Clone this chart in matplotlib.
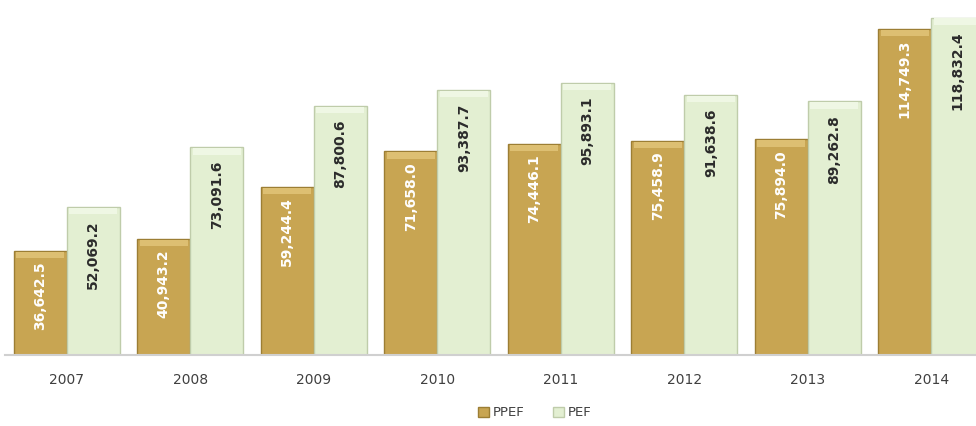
import matplotlib.pyplot as plt
import numpy as np

years = ["2007", "2008", "2009", "2010", "2011", "2012", "2013", "2014"]
ppef = [36642.5, 40943.2, 59244.4, 71658.0, 74446.1, 75458.9, 75894.0, 114749.3]
pef = [52069.2, 73091.6, 87800.6, 93387.7, 95893.1, 91638.6, 89262.8, 118832.4]

gold = "#C8A552"
gold_edge = "#9C7E34"
gold_top = "#DDBF72"
green = "#E3EFD2"
green_edge = "#BFCCAA"
green_top = "#EFF7E4"

fig = plt.figure(figsize=(9.76, 4.26), dpi=100)
ax = fig.add_axes([5 / 976, 71 / 426, 988 / 976, 355 / 426])

x = np.arange(len(years))
w = 0.43

# main bars
b1 = ax.bar(x - w / 2, ppef, w, color=gold, edgecolor=gold_edge, linewidth=1.0, label="PPEF", zorder=2)
b2 = ax.bar(x + w / 2, pef, w, color=green, edgecolor=green_edge, linewidth=1.0, label="PEF", zorder=2)

# light strip on top for a bevel look
bevel = 2200
ax.bar(x - w / 2, bevel, w * 0.9, bottom=np.array(ppef) - bevel * 1.15, color=gold_top, linewidth=0, zorder=3)
ax.bar(x + w / 2, bevel, w * 0.9, bottom=np.array(pef) - bevel * 1.15, color=green_top, linewidth=0, zorder=3)

# value labels, rotated, just under the top of each bar
for xi, v in zip(x, ppef):
    ax.text(xi - w / 2, v - 3800, f"{v:,.1f}", rotation=90, ha="center", va="top",
            color="white", fontsize=10, fontweight="bold", zorder=4)
for xi, v in zip(x, pef):
    ax.text(xi + w / 2, v - 4800, f"{v:,.1f}", rotation=90, ha="center", va="top",
            color="#2b2b2b", fontsize=10, fontweight="bold", zorder=4)

ax.set_xlim(-0.5, len(years) - 0.5)
ax.set_ylim(0, 125000)
ax.set_xticks(x)
ax.set_xticklabels(years, fontsize=10, color="#404040")
ax.tick_params(axis="x", length=0, pad=13)
ax.set_yticks([])
for side in ["top", "right", "left"]:
    ax.spines[side].set_visible(False)
ax.spines["bottom"].set_color("#D0D0D0")
ax.spines["bottom"].set_linewidth(1.5)

fig.legend(handles=[b1, b2], labels=["PPEF", "PEF"], loc="lower center",
           bbox_to_anchor=(0.548, -0.012), ncol=2, frameon=False, fontsize=9.5,
           handlelength=0.8, handleheight=0.8, columnspacing=2.2, handletextpad=0.3,
           labelcolor="#404040")

fig.savefig("out.png", dpi=100)
